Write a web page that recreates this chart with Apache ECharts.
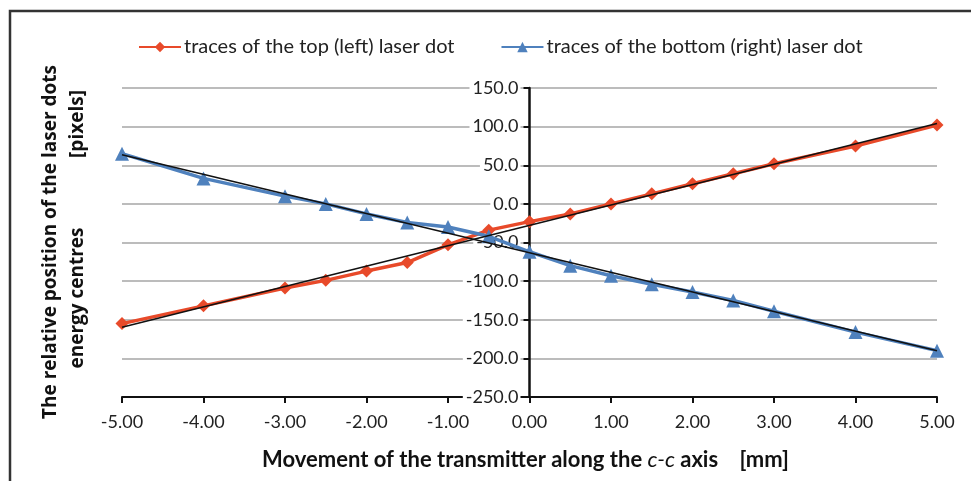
<!DOCTYPE html>
<html>
<head>
<meta charset="utf-8">
<script src="https://cdn.jsdelivr.net/npm/echarts@6/dist/echarts.min.js"></script>
<style>
html,body{margin:0;padding:0;background:#fff;}
#chart{width:971px;height:481px;}
</style>
</head>
<body>
<div id="chart"></div>
<script>
// ---- data ----
var topX = [-5, -4, -3, -2.5, -2, -1.5, -1, -0.5, 0, 0.5, 1, 1.5, 2, 2.5, 3, 4, 5];
var topY = [-155, -132, -109, -99, -87, -76, -53, -34, -23, -13, 0, 13, 26, 39, 52, 75, 102];
var bottomX = [-5, -4, -3, -2.5, -2, -1.5, -1, -0.5, 0, 0.5, 1, 1.5, 2, 2.5, 3, 4, 5];
var bottomY = [65, 33, 10, 0, -13, -24, -30, -42, -62, -80, -93, -104, -114, -125, -139, -166, -190];
var xTicks = [-5, -4, -3, -2, -1, 0, 1, 2, 3, 4, 5];
var yTicks = [-250, -200, -150, -100, -50, 0, 50, 100, 150];
var seriesNames = ['traces of the top (left) laser dot', 'traces of the bottom (right) laser dot'];

function pairs(xs, ys) { return xs.map(function (x, i) { return [x, ys[i]]; }); }
function fit(xs, ys) {
  var n = xs.length, sx = 0, sy = 0, sxx = 0, sxy = 0;
  for (var i = 0; i < n; i++) { sx += xs[i]; sy += ys[i]; sxx += xs[i] * xs[i]; sxy += xs[i] * ys[i]; }
  var b = (n * sxy - sx * sy) / (n * sxx - sx * sx);
  var a = (sy - b * sx) / n;
  var x0 = Math.min.apply(null, xs), x1 = Math.max.apply(null, xs);
  return [[x0, a + b * x0], [x1, a + b * x1]];
}

var RED = '#e84a2a', BLUE = '#4f81bd';
var FONT = 'Lato';
var GRID = { left: 122, right: 34, top: 88, bottom: 84 };
var plotW = 971 - GRID.left - GRID.right;
var xMin = xTicks[0], xMax = xTicks[xTicks.length - 1];
// shift the y axis so it sits where x = 0
var yAxisOffset = -plotW * (0 - xMin) / (xMax - xMin);

var chart = echarts.init(document.getElementById('chart'));
chart.setOption({
  animation: false,
  backgroundColor: '#fff',
  textStyle: { fontFamily: FONT },
  grid: { left: GRID.left, right: GRID.right, top: GRID.top, bottom: GRID.bottom, containLabel: false },
  legend: {
    top: 32, left: 133, itemWidth: 42, itemHeight: 13, itemGap: 46,
    textStyle: { fontSize: 20, color: '#222', fontFamily: FONT, padding: [0, 0, 0, -2] },
    data: seriesNames
  },
  xAxis: {
    type: 'value', min: xMin, max: xMax, interval: 1,
    axisLine: { onZero: false, lineStyle: { color: '#111', width: 2 } },
    axisTick: { show: true, length: 6, lineStyle: { color: '#111', width: 2 } },
    axisLabel: { fontSize: 18, color: '#222', margin: 16, formatter: function (v) { return v.toFixed(2); } },
    splitLine: { show: false },
    name: '{a|Movement of the transmitter along the }{i|c-c}{a| axis    [mm]}',
    nameLocation: 'middle', nameGap: 52,
    nameTextStyle: {
      padding: [0, 8, 0, 0],
      rich: {
        a: { fontSize: 22, fontWeight: 'bold', color: '#111', fontFamily: FONT },
        i: { fontSize: 22, fontWeight: 'normal', fontStyle: 'italic', color: '#111', fontFamily: FONT }
      }
    }
  },
  yAxis: {
    type: 'value', min: yTicks[0], max: yTicks[yTicks.length - 1], interval: 50,
    position: 'left', offset: yAxisOffset,
    axisLine: { onZero: false, lineStyle: { color: '#111', width: 2.5 } },
    axisTick: { show: true, length: 6, lineStyle: { color: '#111', width: 2 } },
    axisLabel: {
      fontSize: 18, color: '#222', margin: 9,
      backgroundColor: '#fff', padding: [0, 2, 0, 3],
      formatter: function (v) { return v.toFixed(1); }
    },
    splitLine: { show: true, lineStyle: { color: '#a6a6a6', width: 1.6 } }
  },
  graphic: [
    {
      type: 'text', x: 51, y: 242, rotation: Math.PI / 2, z: 10,
      style: { text: 'The relative position of the laser dots', fontSize: 19, fontWeight: 'bold',
        fontFamily: 'Open Sans', fill: '#111', align: 'center', verticalAlign: 'middle' }
    },
    {
      type: 'text', x: 78, y: 298, rotation: Math.PI / 2, z: 10,
      style: { text: 'energy centres', fontSize: 19, fontWeight: 'bold',
        fontFamily: 'Open Sans', fill: '#111', align: 'center', verticalAlign: 'middle' }
    },
    {
      type: 'text', x: 78, y: 124, rotation: Math.PI / 2, z: 10,
      style: { text: '[pixels]', fontSize: 19, fontWeight: 'bold',
        fontFamily: 'Open Sans', fill: '#111', align: 'center', verticalAlign: 'middle' }
    },
    {
      type: 'polyline', z: 10,
      shape: { points: [[10, 490], [10, 11], [980, 11]] },
      style: { stroke: '#333', lineWidth: 2.5, fill: null }
    }
  ],
  series: [
    {
      name: seriesNames[0], type: 'line', data: pairs(topX, topY),
      symbol: 'diamond', symbolSize: 13,
      lineStyle: { color: RED, width: 3.5 }, itemStyle: { color: RED }, z: 3
    },
    {
      name: seriesNames[1], type: 'line', data: pairs(bottomX, bottomY),
      symbol: 'triangle', symbolSize: 14,
      lineStyle: { color: BLUE, width: 3.5 }, itemStyle: { color: BLUE }, z: 3
    },
    {
      name: 'trend top', type: 'line', data: fit(topX, topY), symbol: 'none',
      lineStyle: { color: '#111', width: 1.6 }, z: 5, silent: true
    },
    {
      name: 'trend bottom', type: 'line', data: fit(bottomX, bottomY), symbol: 'none',
      lineStyle: { color: '#111', width: 1.6 }, z: 5, silent: true
    }
  ]
});
</script>
</body>
</html>
